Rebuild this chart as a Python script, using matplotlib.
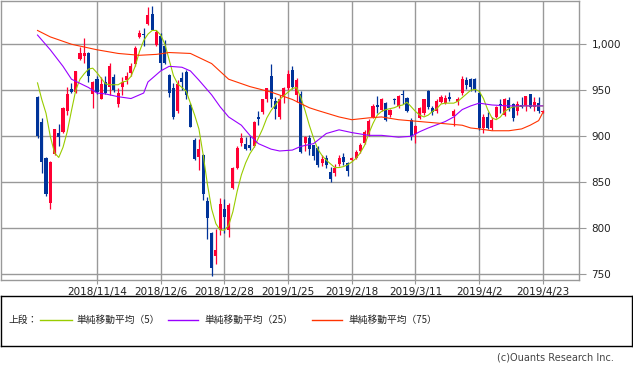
import matplotlib
matplotlib.use("Agg")
import matplotlib.pyplot as plt
import numpy as np

plt.rcParams['font.family'] = ['Noto Sans CJK JP', 'DejaVu Sans']

# daily candles, oldest first (2018/10/25 .. 2019/4/23)
opens = [943, 915, 876, 827, 881, 904, 905, 927, 951, 948,
         984, 987, 990, 946, 962, 941, 959, 954, 964, 935,
         953, 961, 969, 978, 1008, 1011.5, 1022, 1033, 999, 1009,
         998, 967, 952, 927, 963, 970, 934, 896, 878, 880,
         830, 795, 770, 798, 821, 798, 844, 865, 893, 892,
         891, 889, 921, 926, 940, 966, 938, 921, 944, 952,
         972, 945, 946, 893, 898, 890, 887, 871, 876, 861,
         860, 870, 878, 871, 874, 876, 884, 893, 901, 921,
         934, 929, 936, 923, 940, 933, 945.5, 942, 918, 902,
         920, 925, 949, 931, 927, 937, 936, 943, 922, 937,
         947, 961, 962, 962, 947, 909, 921, 909, 921, 935,
         923, 939, 935, 927, 934, 933, 946, 932, 936, 926]
highs = [944, 920, 877, 873, 908, 913, 932, 954, 958, 971,
         997, 1007, 992, 960, 965, 964, 965, 980, 968, 952,
         964, 970, 980, 998, 1016, 1018, 1041, 1042, 1016, 1012,
         1005, 968, 958, 961, 970, 972, 936, 898, 897, 881,
         834, 796, 799, 833, 832, 828, 867, 889, 904, 899,
         900, 917, 927, 940, 952, 979, 943, 945, 953, 972,
         976, 963, 949, 900, 901, 891, 889, 880, 880, 867,
         870, 880, 882, 872, 877, 885, 893, 907, 919, 935,
         944, 942, 937, 930, 942, 945, 950, 943, 920, 912,
         932, 941, 950, 933, 941, 945, 945, 948, 930, 943,
         966, 964, 963, 963, 950, 924, 926, 921, 933, 940,
         942, 943, 936, 938, 943, 944, 946, 943, 943, 929]
lows = [898, 860, 835, 821, 880, 889, 904, 923, 947, 947,
        983, 980, 959, 931, 946, 940, 946, 945, 948, 932,
        945, 957, 966, 976, 1007, 998, 1021, 1015, 998, 972,
        979, 943, 919, 925, 950, 941, 910, 874, 863, 831,
        788, 748, 761, 793, 795, 790, 843, 864, 889, 885,
        885, 888, 912, 924, 937, 932, 919, 919, 936, 950,
        951, 937, 882, 884, 880, 874, 867, 868, 866, 850,
        857, 868, 869, 857, 873, 875, 882, 892, 900, 920,
        925, 927, 917, 921, 935, 931, 935, 926, 896, 893,
        919, 923, 930, 923, 925, 936, 935, 938, 911, 934,
        945, 951, 949, 948, 907, 904, 908, 907, 920, 925,
        922, 928, 917, 923, 931, 927, 931, 927, 925, 925]
closes = [900, 872, 837, 872, 908, 899, 931, 946, 948, 971,
          991, 991, 965, 959, 948, 957, 947, 976, 950, 947,
          959, 965, 976, 996, 1012, 1010.5, 1032, 1015, 1013, 980,
          980, 947, 921, 957, 959, 945, 910, 875, 886, 837,
          811, 757, 776, 826, 812, 825, 865, 887, 898, 886,
          887, 915, 919, 940, 952, 941, 930, 940, 952, 968,
          953, 961, 883, 899, 886, 879, 869, 875, 869, 854,
          866, 876, 872, 862, 876, 883, 891, 905, 917, 933,
          932, 940, 918, 929, 939, 944, 944.5, 927, 900, 911,
          931, 941, 932, 926, 938, 943, 942, 941, 927, 941,
          962, 956, 954, 950, 909, 921, 909, 918, 932, 933,
          940, 931, 920, 935, 932, 944, 932, 937, 927, 928]

# moving averages (candle index -> price)
ma5_idx = list(range(0, 120))
ma5_val = [958, 940, 925, 900, 882, 877, 888, 905, 928, 950,
           962, 968, 973, 974, 969, 963, 957, 956, 956, 956,
           959, 960, 965, 976, 992, 1004, 1011, 1015, 1015, 1010,
           1000, 983, 966, 957, 953, 949, 936, 923, 908, 880,
           848, 821, 805, 798, 798, 803, 818, 840, 858, 871,
           881, 888, 898, 908, 920, 928, 934, 940, 944, 948,
           952, 953, 942, 928, 912, 898, 886, 879, 874, 870,
           866, 866, 867, 869, 872, 876, 882, 890, 903, 914,
           923, 927, 929, 930, 931, 933, 934, 937, 932, 927,
           923, 921, 923, 927, 930, 935, 936, 936, 936, 938,
           942, 946, 950, 951, 949, 941, 929, 920, 918, 921,
           927, 930, 932, 932, 933, 933, 933, 933, 933, 933]
ma25_idx = [0, 3, 6, 8, 12, 14, 16, 19, 22, 25, 26, 29, 31, 34, 36, 38, 41,
            43, 45, 48, 50, 52, 55, 57, 60, 62, 65, 68, 71, 74, 78, 81, 85,
            88, 90, 92, 96, 98, 100, 102, 104, 107, 111, 116, 119]
ma25_val = [1010, 994, 976, 962, 953, 947, 946, 943, 941, 947, 959, 971, 976,
            975, 971, 961, 945, 932, 921, 912, 901, 892, 886, 884, 885, 889,
            892, 903, 907, 904, 901, 901, 899, 900, 905, 909, 916, 921, 929,
            933, 936, 934, 933, 933, 933]
ma75_idx = [0, 3, 8, 14, 19, 24, 28, 31, 36, 41, 45, 50, 55, 60, 64, 66, 71,
            74, 78, 81, 85, 90, 95, 100, 102, 104, 107, 111, 114, 116, 118, 119]
ma75_val = [1015, 1008, 1000, 994, 990, 988, 989, 991, 990, 979, 962, 954,
            948, 940, 931, 928, 921, 918, 920, 921, 918, 916, 914, 912, 909,
            908, 906, 906, 908, 912, 917, 926]

tick_idx = [14, 29, 44, 59, 74, 89, 104, 119]
tick_labels = ["2018/11/14", "2018/12/6", "2018/12/28", "2019/1/25",
               "2019/2/18", "2019/3/11", "2019/4/2", "2019/4/23"]
y_ticks = [750, 800, 850, 900, 950, 1000]

UP = "#ff0033"
DOWN = "#003399"
GRID = "#999999"

fig = plt.figure(figsize=(6.33, 3.71), dpi=100)
ax = fig.add_axes([1 / 633, 1 - 280 / 371, 578 / 633, 279 / 371])

o = np.array(opens)
h = np.array(highs)
l = np.array(lows)
c = np.array(closes)
x = np.arange(len(o))
colors = [UP if cc >= oo else DOWN for oo, cc in zip(o, c)]

ax.vlines(x, l, h, colors=colors, linewidth=0.9, zorder=3)
body_lo = np.minimum(o, c)
body_h = np.maximum(np.abs(c - o), 0.8)
ax.bar(x, body_h, bottom=body_lo, width=0.72, color=colors, linewidth=0, zorder=4)

ax.plot(ma5_idx, ma5_val, color="#99cc00", lw=0.8, zorder=5)
ax.plot(ma25_idx, ma25_val, color="#9900ff", lw=0.8, zorder=5)
ax.plot(ma75_idx, ma75_val, color="#ff3300", lw=0.8, zorder=5)

ax.set_xlim(-8.6, 127.5)
ax.set_ylim(743.8, 1047)
ax.set_xticks(tick_idx)
ax.set_xticklabels(tick_labels, fontsize=7.5, color="#222222", family="DejaVu Sans")
ax.set_yticks(y_ticks)
ax.set_yticklabels([f"{v:,}" for v in y_ticks], fontsize=7.5, color="#222222",
                   family="DejaVu Sans")
ax.yaxis.tick_right()
ax.tick_params(axis="y", length=5, color=GRID, pad=4)
ax.tick_params(axis="x", length=3, color=GRID, pad=2)
ax.grid(True, color=GRID, linewidth=1.0, zorder=0)
ax.set_axisbelow(True)
for s in ax.spines.values():
    s.set_color(GRID)
    s.set_linewidth(1.0)

# legend box
lg = fig.add_axes([0.5 / 633, 1 - 346 / 371, 631.5 / 633, 50 / 371])
lg.set_xlim(0, 632)
lg.set_ylim(50, 0)
lg.set_xticks([])
lg.set_yticks([])
for s in lg.spines.values():
    s.set_color("black")
    s.set_linewidth(1.0)
ty = 24
lg.text(8, ty, "上段：", fontsize=7, va="center", ha="left", color="#222222")
lg.plot([40, 72], [ty, ty], color="#99cc00", lw=1)
lg.text(76, ty, "単純移動平均（5）", fontsize=7, va="center", ha="left", color="#222222")
lg.plot([168, 198], [ty, ty], color="#9900ff", lw=1)
lg.text(204, ty, "単純移動平均（25）", fontsize=7, va="center", ha="left", color="#222222")
lg.plot([312, 342], [ty, ty], color="#ff3300", lw=1)
lg.text(348, ty, "単純移動平均（75）", fontsize=7, va="center", ha="left", color="#222222")

fig.text(614 / 633, 1 - 358 / 371, "(c)Ouants Research Inc.", fontsize=7,
         ha="right", va="center", color="#444444", family="DejaVu Sans")

fig.savefig("out.png", dpi=100)
